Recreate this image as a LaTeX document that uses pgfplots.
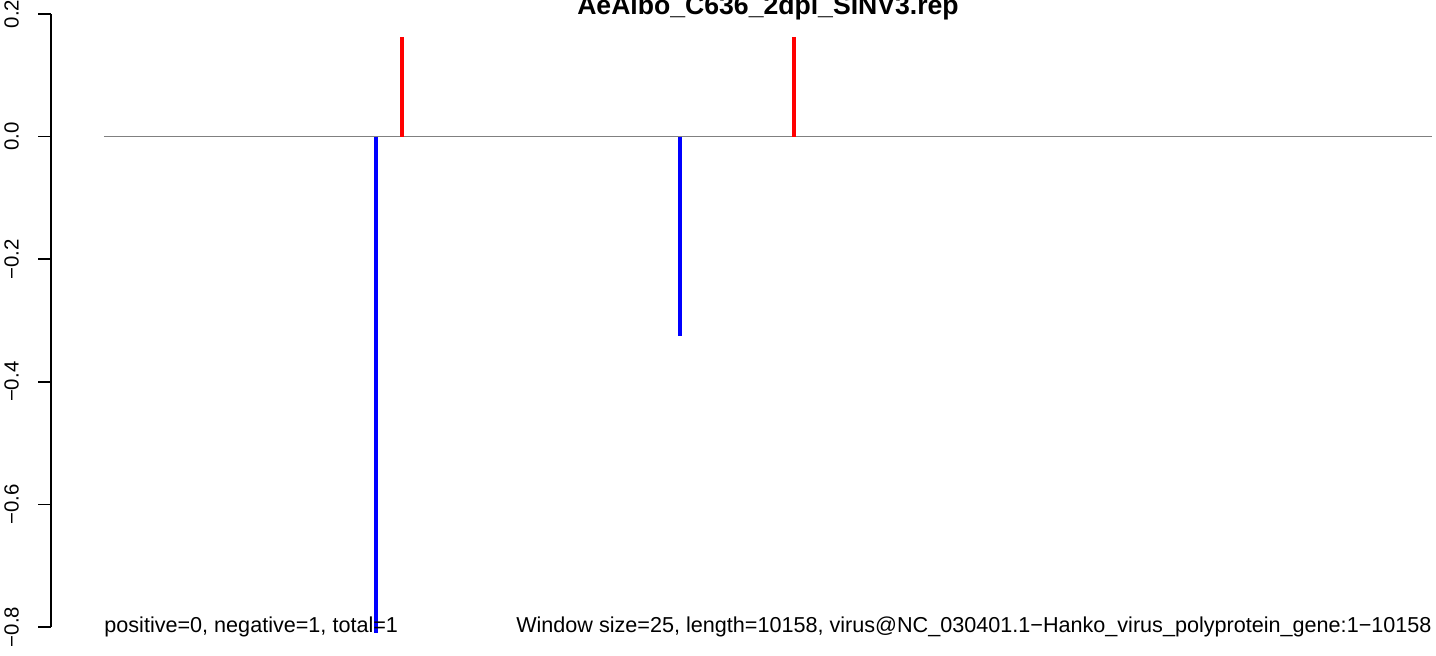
\documentclass[border=0pt]{standalone}
\usepackage{fontspec}
\setmainfont{Liberation Sans}
\usepackage{pgfplots}
\pgfplotsset{compat=1.18}
\begin{document}
\begin{tikzpicture}
\path[use as bounding box, clip] (0,0) rectangle (718pt,328pt);
\begin{axis}[
  at={(25.5pt,14.5pt)}, anchor=south west,
  width=717pt, height=306.5pt, scale only axis,
  xmin=-404.3, xmax=10563.3,
  ymin=-0.8, ymax=0.2,
  clip=false,
  axis y line=left, axis x line=none,
  axis line style={-, line width=0.8pt, black},
  ytick={-0.8,-0.6,-0.4,-0.2,0,0.2},
  yticklabels={−0.8,−0.6,−0.4,−0.2,0.0,0.2},
  tick align=outside,
  major tick length=6.5pt,
  tick style={line width=0.8pt, black},
  yticklabel style={xshift=-6pt, rotate=90, anchor=south, font=\fontsize{10.2}{12}\selectfont},
  title={AeAlbo\_C636\_2dpi\_SINV3.rep},
  title style={at={(axis description cs:0.5,1)}, anchor=base, yshift=-6.5pt, font=\bfseries\fontsize{13.3}{15}\selectfont},
]
\addplot[color={rgb,255:red,128;green,128;blue,128}, line width=0.7pt] coordinates {(1,0) (10158,0)};
\addplot[color={rgb,255:red,0;green,0;blue,255}, line width=2pt] coordinates {(2081,0) (2081,-0.81)};
\addplot[color={rgb,255:red,255;green,0;blue,0}, line width=2pt] coordinates {(2278,0) (2278,0.1625)};
\addplot[color={rgb,255:red,0;green,0;blue,255}, line width=2pt] coordinates {(4406,0) (4406,-0.325)};
\addplot[color={rgb,255:red,255;green,0;blue,0}, line width=2pt] coordinates {(5276,0) (5276,0.1625)};
\node[anchor=base west, inner sep=0pt, yshift=-3pt, font=\fontsize{10.8}{13}\selectfont] at (axis cs:1,-0.8) {positive=0, negative=1, total=1};
\node[anchor=base east, inner sep=0pt, yshift=-3pt, font=\fontsize{10.8}{13}\selectfont] at (axis cs:10158,-0.8) {Window size=25, length=10158, virus@NC\_030401.1−Hanko\_virus\_polyprotein\_gene:1−10158};
\end{axis}
\end{tikzpicture}
\end{document}
